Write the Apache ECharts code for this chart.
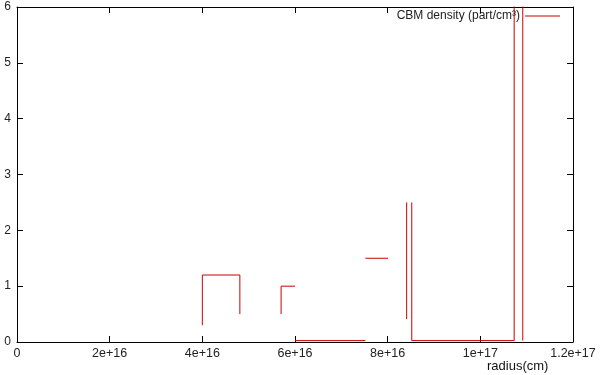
<!DOCTYPE html>
<html>
<head>
<meta charset="utf-8">
<script src="https://cdn.jsdelivr.net/npm/echarts@6/dist/echarts.min.js"></script>
<style>
  html, body { margin: 0; padding: 0; background: #fff; }
  #chart { width: 600px; height: 375px; }
</style>
</head>
<body>
<div id="chart"></div>
<script>
// 数据：半径 (cm) 与 CBM 密度，null 表示断开
const radius = [
    4.0e16, 4.0e16, 4.81e16, 4.81e16, null,
    5.7e16, 5.7e16, 6.0e16, null,
    6.0e16, 7.52e16, null,
    7.52e16, 8.01e16, null,
    8.41e16, 8.41e16, null,
    8.52e16, 8.52e16, 1.073e17, 1.073e17, 1.0916e17, 1.0916e17
];
const density = [
    0.3, 1.2, 1.2, 0.5, null,
    0.5, 1.0, 1.0, null,
    0.025, 0.025, null,
    1.5, 1.5, null,
    0.41, 2.5, null,
    2.5, 0.025, 0.025, 7, 7, 0.025
];
const xTicks = [0, 2e16, 4e16, 6e16, 8e16, 1e17, 1.2e17];
const yTicks = [0, 1, 2, 3, 4, 5, 6];

const seriesName = 'CBM density (part/cm³)';
const lineColor = '#c80000';
const font = 'Liberation Sans, Arial, sans-serif';

const chart = echarts.init(document.getElementById('chart'));

const points = radius.map((r, i) => (r === null ? ['-', '-'] : [r, density[i]]));

function fmtX(v) {
    if (v === 0) return '0';
    return Number(v.toPrecision(3)).toExponential();
}

const baseAxis = {
    type: 'value',
    axisLine: { show: true, onZero: false, lineStyle: { color: '#000', width: 1 } },
    axisTick: { show: true, inside: true, length: 6, lineStyle: { color: '#000' } },
    splitLine: { show: false }
};

const option = {
    animation: false,
    grid: { left: 17, right: 27, top: 7, bottom: 33 },
    legend: {
        right: 35,
        top: 5,
        align: 'right',
        icon: 'rect',
        itemWidth: 35,
        itemHeight: 1,
        itemGap: 5,
        itemStyle: { color: lineColor },
        textStyle: { fontFamily: font, fontSize: 12, color: '#222' },
        data: [{ name: seriesName }]
    },
    xAxis: [
        Object.assign({}, baseAxis, {
            min: xTicks[0], max: xTicks[xTicks.length - 1], interval: 2e16,
            position: 'bottom',
            axisLabel: { formatter: fmtX, fontFamily: font, fontSize: 12.5, color: '#222', margin: 5 }
        }),
        Object.assign({}, baseAxis, {
            min: xTicks[0], max: xTicks[xTicks.length - 1], interval: 2e16,
            position: 'top',
            axisLabel: { show: false }
        })
    ],
    yAxis: [
        Object.assign({}, baseAxis, {
            min: yTicks[0], max: yTicks[yTicks.length - 1], interval: 1,
            position: 'left',
            axisLabel: { fontFamily: font, fontSize: 12, color: '#222', margin: 6 }
        }),
        Object.assign({}, baseAxis, {
            min: yTicks[0], max: yTicks[yTicks.length - 1], interval: 1,
            position: 'right',
            axisLabel: { show: false }
        })
    ],
    graphic: [{
        type: 'text',
        left: 487,
        top: 360,
        style: { text: 'radius(cm)', fontFamily: font, fontSize: 13, fill: '#111' }
    }],
    series: [{
        name: seriesName,
        type: 'line',
        data: points,
        connectNulls: false,
        symbol: 'none',
        showSymbol: false,
        clip: true,
        lineStyle: { color: lineColor, width: 1 },
        itemStyle: { color: lineColor }
    }]
};

chart.setOption(option);
</script>
</body>
</html>
